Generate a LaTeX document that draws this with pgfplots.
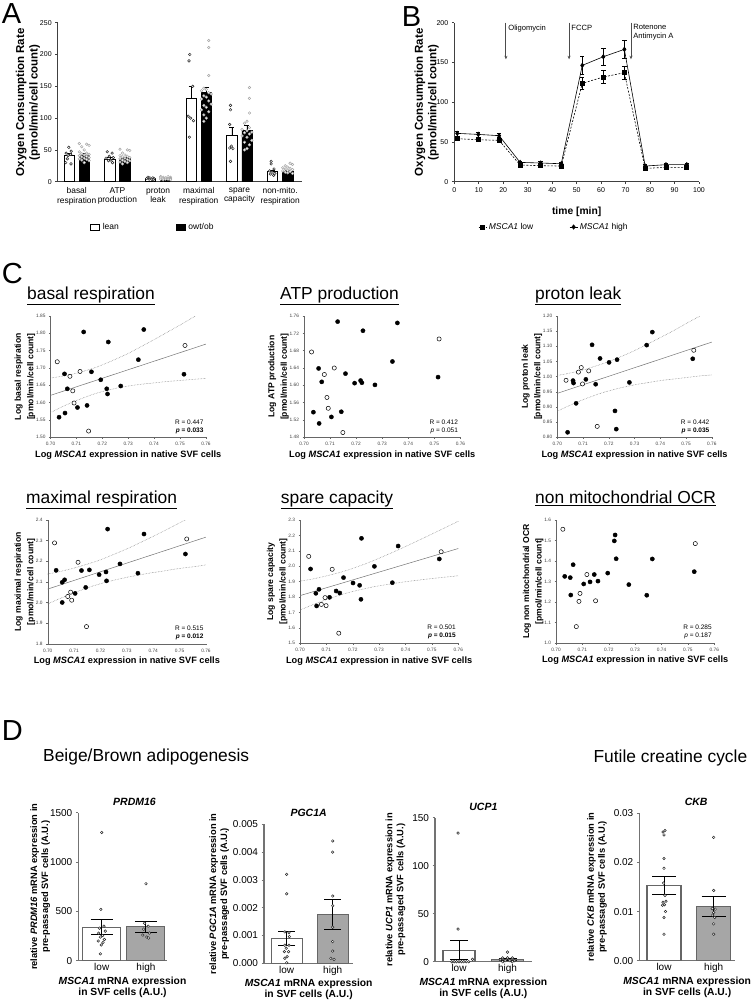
\documentclass[border=0pt]{standalone}
\usepackage{pgfplots}
\pgfplotsset{compat=1.18}
\usepackage{fontspec}
\setmainfont{Liberation Sans}
\usetikzlibrary{arrows.meta}
\definecolor{bargray}{RGB}{166,166,166}
\pgfplotsset{
  /pgf/number format/assume math mode=true,
  /pgf/number format/1000 sep={},
  gp/.style={scale only axis, axis lines=left, axis line style={-}, tick align=outside},
  cax/.style={gp, axis line style={-, draw=black!60, line width=0.4pt},
    major tick length=1.5pt, tick style={draw=black!60, line width=0.4pt},
    xmin=0.70, xmax=0.76, xtick={0.70,0.71,0.72,0.73,0.74,0.75,0.76},
    ticklabel style={font=\fontsize{4.8}{5.5}\selectfont, text=black!75},
    xticklabel style={/pgf/number format/.cd, fixed, fixed zerofill, precision=2},
    xlabel={Log \textit{MSCA1} expression in native SVF cells},
    xlabel style={font=\bfseries\fontsize{9.2}{10}\selectfont, yshift=2pt},
    ylabel style={align=center, font=\bfseries\fontsize{8.6}{12.5}\selectfont},
    ylabel shift=-6pt,
  },
  band/.style={black!55, densely dotted, line width=0.5pt, smooth},
  regl/.style={black!55, line width=0.5pt},
  fdot/.style={only marks, mark=*, mark size=2.1pt, black},
  odot/.style={only marks, mark=*, mark size=2.1pt, mark options={fill=white, draw=black, line width=0.5pt}},
  dax/.style={gp, axis line style={-, draw=black!55, line width=1.1pt}, ytick style={draw=black!55, line width=0.8pt},
    major tick length=2.5pt, xtick={1,2}, xticklabels={low,high}, xtick style={draw=none},
    ticklabel style={font=\fontsize{10}{11}\selectfont}, xticklabel style={inner sep=0pt},
    ymin=0, scaled y ticks=false,
    xlabel={\textit{MSCA1} mRNA expression\\in SVF cells (A.U.)},
    xlabel style={align=center, font=\bfseries\fontsize{10.3}{11}\selectfont, at={(axis description cs:0.5,0)}, anchor=north, inner sep=0pt, yshift=-16pt},
    ylabel style={align=center, font=\bfseries\fontsize{9.3}{11}\selectfont},
    title style={font=\bfseries\itshape\fontsize{10.5}{12}\selectfont, yshift=-2pt}},
  dlow/.style={ybar, bar width=#1, bar shift=0pt, fill=white, draw=black!60, line width=1.1pt,
    error bars/.cd, y dir=both, y explicit, error bar style={black, line width=0.9pt}},
  dhigh/.style={ybar, bar width=#1, bar shift=0pt, fill=bargray, draw=black!60, line width=1.1pt,
    error bars/.cd, y dir=both, y explicit, error bar style={black, line width=0.9pt}},
  ddot/.style={only marks, mark=*, mark size=1.3pt, mark options={fill=white, draw=black!85, line width=0.5pt}},
}
\begin{document}
\begin{tikzpicture}
\path[use as bounding box] (0pt,0pt) rectangle (750pt,-1001pt);

% ---------------- Panel A ----------------
\begin{axis}[gp, at={(57.7pt,-181.7pt)}, anchor=south west, width=244pt, height=159pt,
  xmin=-0.467, xmax=5.53, ymin=0, ymax=250, ytick={0,50,100,150,200,250},
  xtick={0,1,2,3,4,5}, xtick style={draw=none},
  xticklabels={{basal\\respiration},{ATP\\production},{proton\\leak},{maximal\\respiration},{spare\\capacity},{non-mito.\\respiration}},
  xticklabel style={align=center, font=\fontsize{8.4}{9.4}\selectfont},
  yticklabel style={font=\fontsize{7}{8}\selectfont},
  major tick length=2.5pt,
  axis line style={-, draw=black!75, line width=0.6pt}, ytick style={draw=black!75, line width=0.6pt},
  ylabel={Oxygen Consumption Rate\\(pmol/min/cell count)},
  ylabel style={align=center, font=\bfseries\fontsize{11.5}{13.5}\selectfont}, ylabel shift=-7pt,
  legend style={at={(0.12,-0.285)}, anchor=west, draw=none, fill=none, font=\fontsize{8.5}{9}\selectfont,
    legend columns=2, /tikz/every even column/.append style={column sep=55pt},
    /tikz/every odd column/.append style={column sep=1pt}},
  legend image code/.code={\draw[#1] (0pt,-2.8pt) rectangle (9pt,2.8pt);},
]
\addplot[ybar, bar width=10.3pt, bar shift=0pt, fill=white, draw=black, line width=0.6pt,
  error bars/.cd, y dir=plus, y explicit, error bar style={line width=0.6pt, black}, error mark options={rotate=90, mark size=2.5pt, line width=0.6pt}]
  coordinates {(-0.185,41) +- (0,3) (0.815,36) +- (0,3) (1.815,5) +- (0,0.6) (2.815,131) +- (0,19) (3.815,73) +- (0,13) (4.815,16) +- (0,2.5)};
\addlegendentry{lean}
\addplot[ybar, bar width=10.3pt, bar shift=0pt, fill=black, draw=black, line width=0.6pt,
  error bars/.cd, y dir=plus, y explicit, error bar style={line width=0.6pt, black}, error mark options={rotate=90, mark size=2.5pt, line width=0.6pt}]
  coordinates {(0.185,42) +- (0,2) (1.185,37) +- (0,2) (2.185,5) +- (0,0.4) (3.185,140) +- (0,9) (4.185,81) +- (0,7) (5.185,16) +- (0,1.2)};
\addlegendentry{owt/ob}
\addplot[only marks, mark=*, mark size=1.3pt, mark options={fill=white, draw=black!85, line width=0.5pt}, forget plot] coordinates {
(-0.195,54) (-0.135,48) (-0.26,45) (-0.15,43) (-0.21,41) (-0.23,36) (-0.27,30) (-0.14,28)
(0.75,47) (0.87,45) (0.80,40) (0.90,38) (0.72,37) (0.84,34) (0.78,33) (0.88,30)
(1.75,7) (1.87,6) (1.80,6) (1.90,5) (1.72,5) (1.84,4) (1.78,4) (1.88,3)
(2.78,200) (2.76,190) (2.85,150) (2.74,103) (2.80,100) (2.87,96) (2.77,70)
(3.78,120) (3.78,113) (3.76,90) (3.80,56) (3.76,53) (3.84,52) (3.78,32)
(4.78,32) (4.78,28) (4.85,20) (4.74,17) (4.80,15) (4.87,13) (4.76,12) (4.84,10)};
\addplot[only marks, mark=*, mark size=1.3pt, mark options={fill=white, draw=black!35, line width=0.5pt}, forget plot] coordinates {
(0.065,60) (0.245,59) (0.305,57) (0.125,55) (0.185,50) (0.065,47) (0.245,45) (0.125,44) (0.305,43) (0.185,42) (0.065,41) (0.245,40) (0.125,39) (0.305,38) (0.185,37) (0.065,36) (0.245,35) (0.125,34) (0.305,33) (0.185,30)
(1.065,51) (1.245,50) (1.305,49) (1.125,45) (1.185,42) (1.065,41) (1.245,40) (1.125,39) (1.305,38) (1.185,37) (1.065,36) (1.245,35) (1.125,34) (1.305,33) (1.185,32) (1.065,31) (1.245,30) (1.125,28)
(2.065,8) (2.245,8) (2.305,7) (2.125,7) (2.185,6) (2.065,6) (2.245,5) (2.125,5) (2.305,5) (2.185,4) (2.065,4) (2.245,4) (2.125,3) (2.305,3)
(3.245,222) (3.245,211) (3.245,167) (3.125,147) (3.185,145) (3.065,143) (3.245,140) (3.305,138) (3.125,135) (3.185,133) (3.065,130) (3.245,127) (3.305,122) (3.125,120) (3.185,117) (3.065,113) (3.245,110) (3.125,105) (3.185,100) (3.125,95)
(4.245,148) (4.245,131) (4.245,108) (4.185,95) (4.125,92) (4.245,85) (4.065,82) (4.185,80) (4.305,78) (4.125,77) (4.245,75) (4.065,72) (4.185,70) (4.305,65) (4.125,62) (4.245,58) (4.185,52) (4.125,50)
(5.245,29) (5.305,27) (5.125,25) (5.185,23) (5.065,22) (5.245,21) (5.125,20) (5.305,19) (5.185,18) (5.065,17) (5.245,16) (5.125,15) (5.185,14) (5.305,13)};
\end{axis}

% ---------------- Panel B ----------------
\begin{axis}[gp, at={(454.3pt,-181.7pt)}, anchor=south west, width=244.7pt, height=159pt,
  xmin=0, xmax=100, ymin=0, ymax=200, xtick={0,10,20,30,40,50,60,70,80,90,100}, ytick={0,50,100,150,200},
  ticklabel style={font=\fontsize{7}{8}\selectfont},
  major tick length=2.5pt,
  axis line style={-, draw=black!75, line width=0.6pt}, tick style={draw=black!75, line width=0.6pt},
  xlabel={time [min]}, xlabel style={font=\bfseries\fontsize{10.3}{12}\selectfont, yshift=-7pt},
  ylabel={Oxygen Consumption Rate\\(pmol/min/cell count)},
  ylabel style={align=center, font=\bfseries\fontsize{11.5}{13.5}\selectfont}, ylabel shift=-9pt,
  legend style={at={(0.085,-0.285)}, anchor=west, draw=none, fill=none, font=\fontsize{8.5}{9}\selectfont,
    legend columns=2, /tikz/every even column/.append style={column sep=34pt}},
  legend image code/.code={\draw[#1, mark repeat=2, mark phase=2] plot coordinates {(0pt,0pt) (4pt,0pt) (8pt,0pt)};},
]
\addplot[black, line width=0.6pt, dash pattern=on 2pt off 1.5pt, mark=square*, mark size=2pt, mark options={solid},
  error bars/.cd, y dir=both, y explicit, error bar style={solid, line width=0.5pt}, error mark options={rotate=90, mark size=2.2pt, line width=0.5pt}]
  coordinates {(1.2,54.1) +- (0,2.5) (9.8,52.8) +- (0,2.5) (18.3,52) +- (0,2.5) (26.9,21) +- (0,1.5) (35.3,20.1) +- (0,1.5) (43.7,19.7) +- (0,1.5)
  (52.3,123.7) +- (0,8) (60.9,131.7) +- (0,8) (69.5,137.1) +- (0,8) (78,16.8) +- (0,1.5) (86.5,18) +- (0,1.5) (95,18) +- (0,1.5)};
\addlegendentry{\textit{MSCA1} low}
\addplot[black, line width=0.6pt, mark=diamond*, mark size=2.2pt,
  error bars/.cd, y dir=both, y explicit, error bar style={solid, line width=0.5pt}, error mark options={rotate=90, mark size=2.2pt, line width=0.5pt}]
  coordinates {(1.2,60.8) +- (0,3) (9.8,59.5) +- (0,3) (18.3,57.9) +- (0,2.5) (26.9,24.3) +- (0,2) (35.3,23.5) +- (0,2) (43.7,22.6) +- (0,2)
  (52.3,146.3) +- (0,11) (60.9,157.2) +- (0,11) (69.5,166.5) +- (0,11) (78,19.7) +- (0,2) (86.5,21.4) +- (0,2) (95,21.4) +- (0,2)};
\addlegendentry{\textit{MSCA1} high}
\draw[black!70, line width=0.9pt, -{Stealth[length=3.5pt,width=3pt]}] (axis cs:21.1,200) -- (axis cs:21.1,154);
\draw[black!70, line width=0.9pt, -{Stealth[length=3.5pt,width=3pt]}] (axis cs:46.9,200) -- (axis cs:46.9,154);
\draw[black!70, line width=0.9pt, -{Stealth[length=3.5pt,width=3pt]}] (axis cs:72.2,200) -- (axis cs:72.2,154);
\node[anchor=north west, font=\fontsize{7.6}{9}\selectfont, inner sep=1pt] at (axis cs:21.6,199) {Oligomycin};
\node[anchor=north west, font=\fontsize{7.6}{9}\selectfont, inner sep=1pt] at (axis cs:47.4,199) {FCCP};
\node[anchor=north west, align=left, font=\fontsize{7.6}{9}\selectfont, inner sep=1pt] at (axis cs:72.7,199) {Rotenone\\Antimycin A};
\end{axis}

% ---------------- Panel C row 1 ----------------
\begin{axis}[cax, at={(50.5pt,-437.3pt)}, anchor=south west, width=155.5pt, height=121.3pt,
  ymin=1.50, ymax=1.85, ytick={1.50,1.55,1.60,1.65,1.70,1.75,1.80,1.85},
  yticklabel style={/pgf/number format/.cd, fixed, fixed zerofill, precision=2},
  ylabel={Log basal respiration\\{}[pmol/min/cell count]}]
\addplot[band] coordinates {(0.700,1.671) (0.705,1.677) (0.710,1.685) (0.716,1.698) (0.720,1.709) (0.725,1.725) (0.730,1.742) (0.735,1.762) (0.740,1.782) (0.745,1.803) (0.750,1.824) (0.755,1.846) (0.760,1.868)};
\addplot[band] coordinates {(0.700,1.571) (0.705,1.590) (0.710,1.606) (0.716,1.623) (0.720,1.632) (0.725,1.641) (0.730,1.648) (0.735,1.653) (0.740,1.657) (0.745,1.661) (0.750,1.664) (0.755,1.667) (0.760,1.670)};
\addplot[regl] coordinates {(0.70,1.621) (0.76,1.769)};
\addplot[fdot] coordinates {(0.7054,1.683) (0.7065,1.640) (0.7128,1.804) (0.7158,1.689) (0.7104,1.586) (0.7141,1.592) (0.7056,1.570) (0.7033,1.558) (0.7194,1.666) (0.7223,1.775) (0.7217,1.640) (0.7220,1.625) (0.7271,1.648) (0.7339,1.724) (0.7360,1.811) (0.7515,1.682)};
\addplot[odot] coordinates {(0.7026,1.718) (0.7075,1.676) (0.7086,1.634) (0.7114,1.690) (0.7091,1.599) (0.7519,1.765) (0.7147,1.518)};
\node[anchor=south east, align=right, font=\fontsize{6.5}{8}\selectfont, inner sep=0pt] at (rel axis cs:0.985,0.03) {R = 0.447\\\textbf{\textit{p} = 0.033}};
\end{axis}

\begin{axis}[cax, at={(304pt,-437.3pt)}, anchor=south west, width=156.5pt, height=121.3pt,
  ymin=1.48, ymax=1.76, ytick={1.48,1.52,1.56,1.60,1.64,1.68,1.72,1.76},
  yticklabel style={/pgf/number format/.cd, fixed, fixed zerofill, precision=2},
  ylabel={Log ATP production\\{}[pmol/min/cell count]}]
\addplot[fdot] coordinates {(0.7056,1.639) (0.7068,1.608) (0.7129,1.747) (0.7159,1.627) (0.7143,1.539) (0.7105,1.527) (0.7036,1.538) (0.7194,1.605) (0.7217,1.611) (0.7222,1.606) (0.7226,1.726) (0.7272,1.601) (0.7339,1.655) (0.7358,1.744) (0.7514,1.619) (0.7058,1.512)};
\addplot[odot] coordinates {(0.7029,1.677) (0.7078,1.625) (0.7116,1.640) (0.7088,1.572) (0.7093,1.547) (0.7518,1.707) (0.7149,1.491)};
\node[anchor=south east, align=right, font=\fontsize{6.5}{8}\selectfont, inner sep=0pt] at (rel axis cs:0.985,0.03) {R = 0.412\\\textit{p} = 0.051};
\end{axis}

\begin{axis}[cax, at={(557.3pt,-437.3pt)}, anchor=south west, width=154.5pt, height=121.3pt,
  ymin=0.80, ymax=1.20, ytick={0.80,0.85,0.90,0.95,1.00,1.05,1.10,1.15,1.20},
  yticklabel style={/pgf/number format/.cd, fixed, fixed zerofill, precision=2},
  ylabel={Log proton leak\\{}[pmol/min/cell count]}]
\addplot[band] coordinates {(0.700,1.004) (0.705,1.012) (0.710,1.022) (0.716,1.038) (0.720,1.050) (0.725,1.067) (0.730,1.086) (0.735,1.107) (0.740,1.129) (0.745,1.151) (0.750,1.175) (0.755,1.198) (0.760,1.222)};
\addplot[band] coordinates {(0.700,0.886) (0.705,0.906) (0.710,0.924) (0.716,0.943) (0.720,0.953) (0.725,0.964) (0.730,0.973) (0.735,0.980) (0.740,0.987) (0.745,0.992) (0.750,0.997) (0.755,1.002) (0.760,1.006)};
\addplot[regl] coordinates {(0.70,0.945) (0.76,1.114)};
\addplot[fdot] coordinates {(0.7061,0.987) (0.7063,0.979) (0.7111,0.991) (0.7135,1.105) (0.7149,0.975) (0.7166,1.060) (0.7073,0.912) (0.7201,1.047) (0.7224,0.887) (0.7232,1.056) (0.7280,0.981) (0.7347,1.104) (0.7369,1.147) (0.7526,1.059) (0.7040,0.8165) (0.7229,0.827)};
\addplot[odot] coordinates {(0.7034,0.988) (0.7082,1.015) (0.7093,1.030) (0.7098,0.976) (0.7122,1.019) (0.7530,1.087) (0.7155,0.836)};
\node[anchor=south east, align=right, font=\fontsize{6.5}{8}\selectfont, inner sep=0pt] at (rel axis cs:0.985,0.03) {R = 0.442\\\textbf{\textit{p} = 0.035}};
\end{axis}

% ---------------- Panel C row 2 ----------------
\begin{axis}[cax, at={(47.7pt,-643.7pt)}, anchor=south west, width=158.3pt, height=123.7pt,
  ymin=1.8, ymax=2.4, ytick={1.8,1.9,2.0,2.1,2.2,2.3,2.4},
  yticklabel style={/pgf/number format/.cd, fixed, fixed zerofill, precision=1},
  ylabel={Log maximal respiration\\{}[pmol/min/cell count]}]
\addplot[band] coordinates {(0.700,2.138) (0.705,2.151) (0.710,2.167) (0.716,2.190) (0.720,2.207) (0.725,2.233) (0.730,2.260) (0.735,2.290) (0.740,2.321) (0.745,2.353) (0.750,2.386) (0.755,2.419) (0.760,2.452)};
\addplot[band] coordinates {(0.700,1.993) (0.705,2.021) (0.710,2.047) (0.716,2.075) (0.720,2.091) (0.725,2.108) (0.730,2.122) (0.735,2.134) (0.740,2.145) (0.745,2.155) (0.750,2.165) (0.755,2.173) (0.760,2.182)};
\addplot[regl] coordinates {(0.70,2.065) (0.76,2.317)};
\addplot[fdot] coordinates {(0.7032,2.156) (0.7055,2.098) (0.7064,2.110) (0.7055,2.000) (0.7128,2.155) (0.7158,2.158) (0.7104,2.044) (0.7144,2.073) (0.7195,2.135) (0.7227,2.356) (0.7221,2.148) (0.7223,2.105) (0.7274,2.187) (0.7342,2.142) (0.7365,2.332) (0.7522,2.235)};
\addplot[odot] coordinates {(0.7026,2.289) (0.7115,2.195) (0.7087,2.050) (0.7076,2.029) (0.7091,2.011) (0.7527,2.308) (0.7147,1.883)};
\node[anchor=south east, align=right, font=\fontsize{6.5}{8}\selectfont, inner sep=0pt] at (rel axis cs:0.985,0.03) {R = 0.515\\\textbf{\textit{p} = 0.012}};
\end{axis}

\begin{axis}[cax, at={(300pt,-643.2pt)}, anchor=south west, width=158.3pt, height=123.2pt,
  ymin=1.5, ymax=2.3, ytick={1.5,1.6,1.7,1.8,1.9,2.0,2.1,2.2,2.3},
  yticklabel style={/pgf/number format/.cd, fixed, fixed zerofill, precision=1},
  ylabel={Log spare capacity\\{}[pmol/min/cell count]}]
\addplot[band] coordinates {(0.700,1.903) (0.705,1.918) (0.710,1.937) (0.716,1.964) (0.720,1.986) (0.725,2.017) (0.730,2.052) (0.735,2.089) (0.740,2.128) (0.745,2.168) (0.750,2.209) (0.755,2.250) (0.760,2.292)};
\addplot[band] coordinates {(0.700,1.715) (0.705,1.751) (0.710,1.783) (0.716,1.817) (0.720,1.836) (0.725,1.856) (0.730,1.873) (0.735,1.887) (0.740,1.899) (0.745,1.910) (0.750,1.920) (0.755,1.929) (0.760,1.938)};
\addplot[regl] coordinates {(0.70,1.809) (0.76,2.115)};
\addplot[fdot] coordinates {(0.7040,1.982) (0.7060,1.824) (0.7072,1.850) (0.7112,1.798) (0.7137,1.839) (0.7151,1.826) (0.7165,1.926) (0.7201,1.891) (0.7226,1.876) (0.7233,2.181) (0.7231,1.785) (0.7282,1.999) (0.7350,1.893) (0.7372,2.131) (0.7528,2.047) (0.7063,1.742)};
\addplot[odot] coordinates {(0.7033,2.064) (0.7122,1.980) (0.7095,1.796) (0.7081,1.752) (0.7099,1.744) (0.7535,2.094) (0.7147,1.565)};
\node[anchor=south east, align=right, font=\fontsize{6.5}{8}\selectfont, inner sep=0pt] at (rel axis cs:0.985,0.03) {R = 0.501\\\textbf{\textit{p} = 0.015}};
\end{axis}

\begin{axis}[cax, at={(556pt,-643pt)}, anchor=south west, width=158.3pt, height=123pt,
  ymin=1.0, ymax=1.6, ytick={1.0,1.1,1.2,1.3,1.4,1.5,1.6},
  yticklabel style={/pgf/number format/.cd, fixed, fixed zerofill, precision=1},
  ylabel={Log non mitochondrial OCR\\{}[pmol/min/cell count]}]
\addplot[fdot] coordinates {(0.7033,1.325) (0.7054,1.319) (0.7065,1.382) (0.7056,1.234) (0.7105,1.288) (0.7129,1.298) (0.7145,1.334) (0.7159,1.302) (0.7196,1.341) (0.7221,1.498) (0.7224,1.527) (0.7228,1.411) (0.7276,1.285) (0.7344,1.233) (0.7365,1.410) (0.7524,1.348)};
\addplot[odot] coordinates {(0.7026,1.555) (0.7091,1.242) (0.7087,1.203) (0.7117,1.334) (0.7150,1.206) (0.7528,1.485) (0.7077,1.080)};
\node[anchor=south east, align=right, font=\fontsize{6.5}{8}\selectfont, inner sep=0pt] at (rel axis cs:0.985,0.03) {R = 0.285\\\textit{p} = 0.187};
\end{axis}

% ---------------- Panel D ----------------
\begin{axis}[dax, at={(78.3pt,-960.7pt)}, anchor=south west, width=88.4pt, height=148pt,
  xmin=0.47, xmax=2.47, ymax=1500, ytick={0,500,1000,1500},
  title={PRDM16}, title style={xshift=12pt}, ylabel shift=-7pt,
  ylabel={relative \textit{PRDM16} mRNA expression in\\pre-passaged SVF cells (A.U.)}]
\addplot[dlow=38pt, error mark options={rotate=90, mark size=11pt, line width=0.9pt}] coordinates {(1,340) +- (0,78)};
\addplot[dhigh=38pt, error mark options={rotate=90, mark size=11pt, line width=0.9pt}] coordinates {(2,345) +- (0,55)};
\addplot[ddot] coordinates {(1.0,1300) (0.98,520) (1.05,350) (0.95,330) (1.08,300) (0.93,280) (1.02,255) (0.97,240) (1.06,215) (0.92,200) (1.03,185) (0.99,160) (0.97,70)
(2.0,780) (1.97,380) (2.05,350) (1.95,320) (2.08,280) (1.93,260) (2.02,240) (2.06,230)};
\end{axis}

\begin{axis}[dax, at={(264pt,-963.3pt)}, anchor=south west, width=89.3pt, height=139pt,
  xmin=0.507, xmax=2.448, ymax=0.005, ytick={0,0.001,0.002,0.003,0.004,0.005},
  yticklabel style={/pgf/number format/.cd, fixed, fixed zerofill, precision=3},
  title={PGC1A}, ylabel shift=-3pt,
  ylabel={relative \textit{PGC1A} mRNA expression in\\pre-passaged SVF cells (A.U.)}]
\addplot[dlow=31pt, error mark options={rotate=90, mark size=8.5pt, line width=0.9pt}] coordinates {(1,0.00088) +- (0,0.00025)};
\addplot[dhigh=31pt, error mark options={rotate=90, mark size=8.5pt, line width=0.9pt}] coordinates {(2,0.00175) +- (0,0.00054)};
\addplot[ddot] coordinates {(1.0,0.0032) (1.0,0.0025) (0.96,0.00113) (1.05,0.0011) (1.06,0.00096) (0.96,0.00065) (1.05,0.00065) (0.99,0.00054) (1.04,0.00042) (0.95,0.00042) (1.01,0.00024) (0.96,0.00018) (1.0,0.00002)
(2.0,0.0044) (2.0,0.0040) (2.0,0.00242) (2.0,0.00207) (2.0,0.0013) (2.0,0.00078) (2.0,0.00044) (1.96,0.00018) (2.03,0.00014)};
\end{axis}

\begin{axis}[dax, at={(435pt,-961.7pt)}, anchor=south west, width=96.7pt, height=144pt,
  xmin=0.505, xmax=2.499, ymax=150, ytick={0,50,100,150},
  title={UCP1}, ylabel shift=0pt,
  ylabel={relative \textit{UCP1} mRNA expression in\\pre-passaged SVF cells (A.U.)}]
\addplot[dlow=32pt, error mark options={rotate=90, mark size=9pt, line width=0.9pt}] coordinates {(1,12) +- (0,10)};
\addplot[dhigh=32pt, error mark options={rotate=90, mark size=9pt, line width=0.9pt}] coordinates {(2,2.5) +- (0,1)};
\addplot[ddot] coordinates {(0.98,134) (0.98,34) (1.28,2.5) (0.85,0) (0.9,0) (0.95,0) (1.0,0) (1.05,0) (1.1,0) (1.15,0) (1.2,0)
(2.0,10) (1.9,4) (2.0,4) (2.1,4) (1.85,2) (1.95,1) (2.05,1) (2.15,1) (1.9,0) (2.1,0)};
\end{axis}

\begin{axis}[dax, at={(639.3pt,-960.7pt)}, anchor=south west, width=95.7pt, height=147.4pt,
  xmin=0.503, xmax=2.429, ymax=0.03, ytick={0,0.01,0.02,0.03},
  yticklabel style={/pgf/number format/.cd, fixed, fixed zerofill, precision=2},
  title={CKB}, title style={xshift=9pt},
  ylabel={relative \textit{CKB} mRNA expression in\\pre-passaged SVF cells (A.U.)}]
\addplot[dlow=34pt, error mark options={rotate=90, mark size=12pt, line width=0.9pt}] coordinates {(1,0.0153) +- (0,0.0019)};
\addplot[dhigh=34pt, error mark options={rotate=90, mark size=12pt, line width=0.9pt}] coordinates {(2,0.0110) +- (0,0.0020)};
\addplot[ddot] coordinates {(1.02,0.0265) (0.98,0.0262) (1.0,0.0256) (1.0,0.0208) (1.0,0.0188) (0.99,0.0158) (1.02,0.0133) (1.04,0.0121) (0.98,0.0119) (1.01,0.0114) (0.97,0.0113) (1.03,0.0100) (1.0,0.0088) (1.0,0.0054)
(2.0,0.0251) (2.0,0.0143) (1.97,0.0106) (2.03,0.0105) (2.0,0.0098) (1.98,0.0093) (2.02,0.0088) (2.0,0.0075) (2.0,0.0054)};
\end{axis}

% ---------------- Text ----------------
\node[anchor=base west, font=\fontsize{29}{30}\selectfont, inner sep=0pt] at (1.7pt,-23.3pt) {A};
\node[anchor=base west, font=\fontsize{29}{30}\selectfont, inner sep=0pt] at (401.7pt,-26.7pt) {B};
\node[anchor=base west, font=\fontsize{29}{30}\selectfont, inner sep=0pt] at (1.7pt,-283pt) {C};
\node[anchor=base west, font=\fontsize{29}{30}\selectfont, inner sep=0pt] at (1.7pt,-740pt) {D};
\node[anchor=base west, font=\fontsize{17.4}{20}\selectfont, inner sep=0pt] at (27pt,-299pt) {\underline{basal respiration}};
\node[anchor=base west, font=\fontsize{17.4}{20}\selectfont, inner sep=0pt] at (280pt,-299pt) {\underline{ATP production}};
\node[anchor=base west, font=\fontsize{17.4}{20}\selectfont, inner sep=0pt] at (535pt,-299pt) {\underline{proton leak}};
\node[anchor=base west, font=\fontsize{17.4}{20}\selectfont, inner sep=0pt] at (26pt,-503.3pt) {\underline{maximal respiration}};
\node[anchor=base west, font=\fontsize{17.4}{20}\selectfont, inner sep=0pt] at (280.7pt,-503.3pt) {\underline{spare capacity}};
\node[anchor=base west, font=\fontsize{17.4}{20}\selectfont, inner sep=0pt] at (535pt,-503.3pt) {\underline{non mitochondrial OCR}};
\node[anchor=base west, font=\fontsize{17.4}{20}\selectfont, inner sep=0pt] at (43pt,-761.7pt) {Beige/Brown adipogenesis};
\node[anchor=base west, font=\fontsize{17.4}{20}\selectfont, inner sep=0pt] at (593.3pt,-762.7pt) {Futile creatine cycle};
\end{tikzpicture}
\end{document}
